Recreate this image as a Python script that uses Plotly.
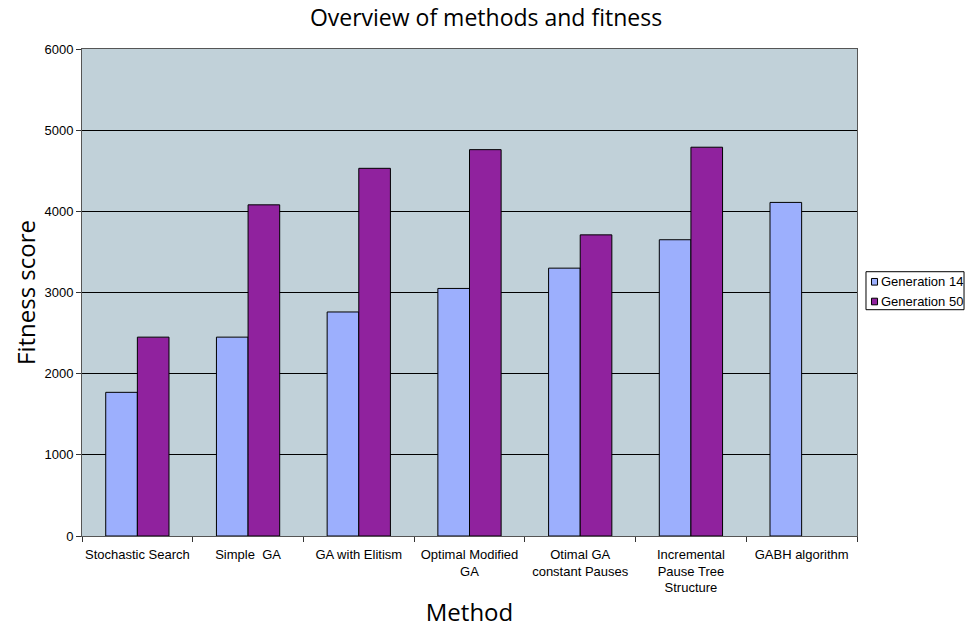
import plotly.graph_objects as go

# Fitness scores per method at two generations
methods = [
    "Stochastic Search",
    "Simple  GA",
    "GA with Elitism",
    "Optimal Modified<br>GA",
    "Otimal GA<br>constant Pauses",
    "Incremental<br>Pause Tree<br>Structure",
    "GABH algorithm",
]
series_names = ["Generation 14", "Generation 50"]
gen14 = [1770, 2450, 2760, 3050, 3300, 3650, 4110]
gen50 = [2450, 4080, 4530, 4760, 3710, 4790, None]
y_ticks = [0, 1000, 2000, 3000, 4000, 5000, 6000]

colors = ["#9CAFFD", "#90229E"]
arial = "Liberation Sans, Arial, sans-serif"
humanist = "Open Sans, Noto Sans, sans-serif"
tick_font = dict(family=arial, size=13, color="black")

fig = go.Figure()
for name, vals, col in zip(series_names, [gen14, gen50], colors):
    fig.add_trace(go.Bar(
        name=name, x=methods, y=vals,
        marker=dict(color=col, line=dict(color="black", width=1)),
        showlegend=False,
    ))

fig.update_layout(
    width=972, height=628,
    margin=dict(l=82, r=115, t=49, b=92, autoexpand=False),
    paper_bgcolor="white",
    plot_bgcolor="#C1D1D9",
    barmode="group",
    bargap=0.4286,
    bargroupgap=0,
    title=dict(
        text="Overview of methods and fitness",
        x=0.5, xanchor="center", y=0.971, yanchor="middle",
        font=dict(family=humanist, size=23, color="black"),
    ),
)

# Legend box drawn in paper space to the right of the plot
legend_box = dict(x0=1.0116, x1=1.1381, y0=0.4647, y1=0.5427)
fig.add_shape(type="rect", xref="paper", yref="paper",
              fillcolor="white", line=dict(color="black", width=1), **legend_box)
row_y = [0.522, 0.4815]
for name, col, yy in zip(series_names, colors, row_y):
    fig.add_shape(type="rect", xref="paper", yref="paper",
                  x0=1.0187, x1=1.0265, y0=yy - 0.0068, y1=yy + 0.0068,
                  fillcolor=col, line=dict(color="black", width=1))
    fig.add_annotation(text=name, xref="paper", yref="paper",
                       x=1.0285, y=yy, xanchor="left", yanchor="middle",
                       showarrow=False, font=dict(family=arial, size=13, color="black"))

fig.update_xaxes(
    type="category",
    tickson="boundaries",
    tickangle=0,
    automargin=False,
    ticks="outside", ticklen=5, tickcolor="#333333",
    ticklabelstandoff=6,
    showline=True, linecolor="#555555", linewidth=1, mirror=True,
    showgrid=False,
    tickfont=tick_font,
    title=dict(text="Method", standoff=14,
               font=dict(family=humanist, size=24, color="black")),
)
fig.update_yaxes(
    range=[0, 6000],
    tickvals=y_ticks,
    automargin=False,
    ticks="outside", ticklen=5, tickcolor="#333333",
    showline=True, linecolor="#555555", linewidth=1, mirror=True,
    showgrid=True, gridcolor="black", gridwidth=1,
    zeroline=False,
    tickfont=tick_font,
    title=dict(text="Fitness score", standoff=2,
               font=dict(family=humanist, size=24, color="black")),
)

fig.write_html("out.html")
